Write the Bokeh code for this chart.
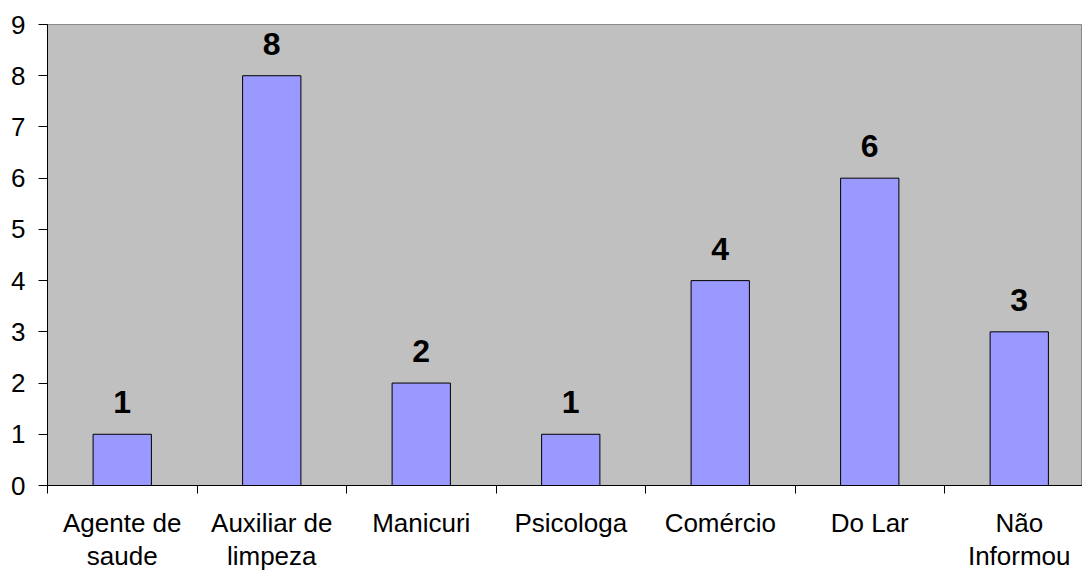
from bokeh.plotting import figure
from bokeh.models import Range1d, FixedTicker, ColumnDataSource, LinearAxis
from bokeh.core.properties import value
from bokeh.embed import file_html
from bokeh.resources import INLINE

categories = ["Agente de\nsaude", "Auxiliar de\nlimpeza", "Manicuri", "Psicologa",
              "Comércio", "Do Lar", "Não\nInformou"]
counts = [1, 8, 2, 1, 4, 6, 3]
y_ticks = [0, 1, 2, 3, 4, 5, 6, 7, 8, 9]

n = len(categories)
centers = [i + 0.5 for i in range(n)]
bounds = list(range(n + 1))

W, H = 1082, 573
p = figure(width=W, height=H, output_backend="svg", toolbar_location=None,
           x_range=Range1d(0, 1035 / 149.5), y_range=Range1d(0, 9),
           x_axis_type=None, y_axis_type=None,
           min_border_left=47, min_border_top=24, min_border_right=0,
           min_border_bottom=87)
p.background_fill_color = "#C0C0C0"
p.border_fill_color = "white"
p.outline_line_color = "#8A8A8A"
p.outline_line_width = 1

src = ColumnDataSource(dict(x=centers, top=counts, label=[str(c) for c in counts]))
p.vbar(x="x", top="top", bottom=0, width=0.39, source=src,
       fill_color="#9999FF", line_color="black", line_width=1)

p.text(x="x", y="top", text="label", source=src, text_align="center",
       text_baseline="alphabetic", y_offset=-32,
       text_font=value("Liberation Sans"), text_font_style="bold",
       text_font_size="32px", text_color="black")

# Y axis
yax = LinearAxis(ticker=FixedTicker(ticks=y_ticks))
yax.axis_line_color = "black"
yax.major_tick_line_color = "black"
yax.major_tick_out = 9
yax.major_tick_in = 0
yax.minor_tick_line_color = None
yax.major_label_standoff = 13
yax.major_label_text_font = "Liberation Sans"
yax.major_label_text_font_size = "26px"
yax.major_label_text_color = "black"
p.add_layout(yax, "left")

# X axis: minor ticks at category boundaries, labels at centers
xax = LinearAxis(ticker=FixedTicker(ticks=centers, minor_ticks=bounds))
xax.axis_line_color = "black"
xax.major_tick_out = 0
xax.major_tick_in = 0
xax.minor_tick_out = 8
xax.minor_tick_in = 0
xax.minor_tick_line_color = "black"
xax.major_label_overrides = {c: lab for c, lab in zip(centers, categories)}
xax.major_label_standoff = 14
xax.major_label_text_font = "Liberation Sans"
xax.major_label_text_font_size = "26px"
xax.major_label_text_line_height = 1.1
xax.major_label_text_color = "black"
p.add_layout(xax, "below")

p.ygrid.ticker = FixedTicker(ticks=y_ticks[1:-1])
p.ygrid.grid_line_color = "black"
p.ygrid.grid_line_width = 1
p.xgrid.grid_line_color = None

open("out.html", "w").write(file_html(p, INLINE))
